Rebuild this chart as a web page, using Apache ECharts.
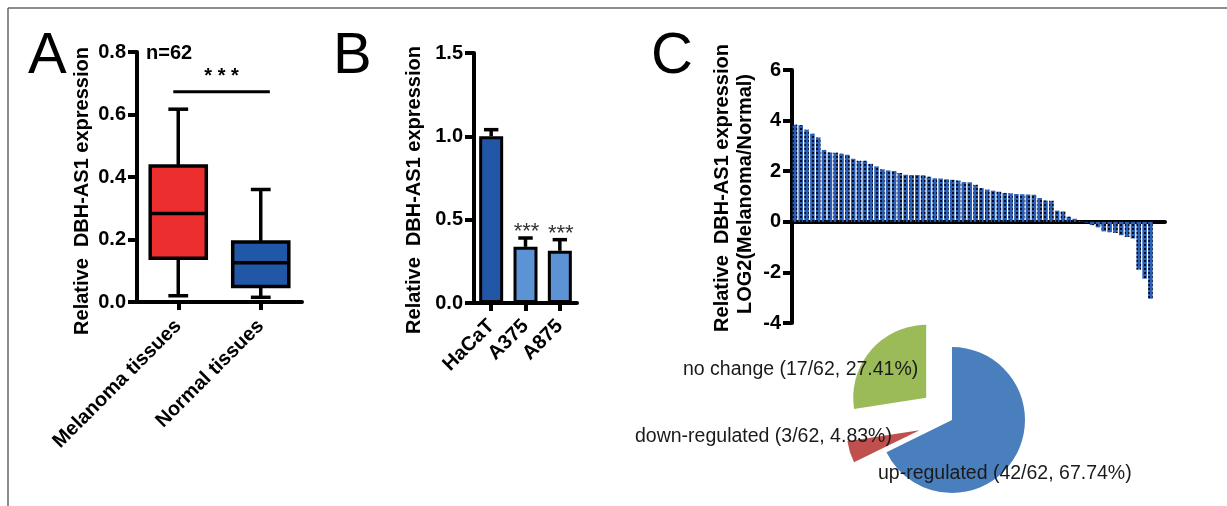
<!DOCTYPE html>
<html><head><meta charset="utf-8">
<script src="https://cdn.jsdelivr.net/npm/echarts@6/dist/echarts.min.js"></script>
<style>html,body{margin:0;padding:0;background:#fff}#c{width:1227px;height:506px}</style>
</head><body><div id="c"></div>
<script>
// ---------- Panel A: boxplot ----------
const boxCategories = ['Melanoma tissues', 'Normal tissues'];
const boxMin = [0.02, 0.015];
const boxQ1 = [0.14, 0.05];
const boxMedian = [0.283, 0.126];
const boxQ3 = [0.435, 0.192];
const boxMax = [0.617, 0.36];
const sampleSizeLabel = 'n=62';
const sigLevelA = 0.673;
const sigStarsA = '* * *';
const yTicksA = [0, 0.8, 0.2];

// ---------- Panel B: cell lines ----------
const cellLines = ['HaCaT', 'A375', 'A875'];
const cellExpr = [1.0, 0.337, 0.313];
const cellErr = [0.04, 0.053, 0.067];
const cellStars = ['', '***', '***'];
const yTicksB = [0, 1.5, 0.5];

// ---------- Panel C: waterfall + pie ----------
const log2Ratio = [3.84, 3.82, 3.64, 3.48, 3.33, 2.84, 2.74, 2.73, 2.69, 2.65,
  2.49, 2.41, 2.41, 2.29, 2.19, 2.07, 2.03, 2.01, 1.93, 1.86,
  1.85, 1.85, 1.84, 1.78, 1.72, 1.71, 1.68, 1.66, 1.63, 1.57,
  1.56, 1.46, 1.33, 1.27, 1.23, 1.19, 1.14, 1.12, 1.10, 1.09,
  1.08, 1.07, 0.94, 0.84, 0.83, 0.44, 0.41, 0.20, 0.12, 0.03,
  -0.03, -0.13, -0.22, -0.38, -0.41, -0.44, -0.53, -0.60, -0.66, -1.89,
  -2.25, -3.04];
const yTicksC = [-4, 6, 2];
const pieNames = ['up-regulated', 'down-regulated', 'no change'];
const pieCounts = [42, 3, 17];
const piePercents = ['67.74%', '4.83%', '27.41%'];
const yTitle = 'Relative  DBH-AS1 expression';
const yTitleC2 = 'LOG2(Melanoma/Normal)';

// ---------- styles ----------
const F = '"Liberation Sans", Arial, Helvetica, sans-serif';
const boxColors = ['#ec2e2f', '#2157a7'];
const cellColors = ['#2256a6', '#5b93d4', '#5b93d4'];
const pieColors = ['#4a7fbd', '#c0504d', '#9bbb59'];
const pieSelected = [false, true, true];
const pieLabelPos = [[878, 474], [635, 437], [683, 370]];

const chart = echarts.init(document.getElementById('c'), null, {renderer: 'canvas'});

function yAxisOf(grid, t, digits) {
  return {
    type: 'value', gridIndex: grid, min: t[0], max: t[1], interval: t[2],
    axisLine: {show: true, lineStyle: {color: '#000', width: 4}},
    axisTick: {show: true, length: 9, lineStyle: {color: '#000', width: 4}},
    splitLine: {show: false},
    axisLabel: {color: '#000', fontFamily: F, fontWeight: 'bold', fontSize: 20, margin: 11,
      formatter: v => digits ? v.toFixed(digits) : String(v)}
  };
}
function xAxisCat(grid, data, margin) {
  return {
    type: 'category', gridIndex: grid, data: data,
    axisLine: {show: true, onZero: false, lineStyle: {color: '#000', width: 4}},
    axisTick: {show: true, alignWithLabel: true, length: 8, lineStyle: {color: '#000', width: 4}},
    axisLabel: {rotate: 45, interval: 0, color: '#000', fontFamily: F, fontWeight: 'bold', fontSize: 20, margin: margin}
  };
}

const total = pieCounts.reduce((a, b) => a + b, 0);

const option = {
  animation: false,
  backgroundColor: '#fff',
  grid: [
    {left: 137, right: 925, top: 52, bottom: 204, containLabel: false, outerBoundsMode: 'none'},
    {left: 474, right: 650, top: 53, bottom: 203, containLabel: false, outerBoundsMode: 'none'},
    {left: 792, right: 62, top: 70, bottom: 183, containLabel: false, outerBoundsMode: 'none'}
  ],
  xAxis: [
    xAxisCat(0, boxCategories, 21),
    xAxisCat(1, cellLines, 20),
    {type: 'category', gridIndex: 2, data: log2Ratio.map((_, i) => String(i + 1)), max: log2Ratio.length + 1,
      axisLine: {show: true, onZero: true, lineStyle: {color: '#000', width: 4}},
      axisTick: {show: false}, axisLabel: {show: false}}
  ],
  yAxis: [
    yAxisOf(0, yTicksA, 1),
    yAxisOf(1, yTicksB, 1),
    yAxisOf(2, yTicksC, 0)
  ],
  series: [
    {
      type: 'custom', xAxisIndex: 0, yAxisIndex: 0,
      data: boxCategories.map((c, i) => [i, boxMin[i], boxQ1[i], boxMedian[i], boxQ3[i], boxMax[i]]),
      encode: {x: 0, y: [1, 2, 3, 4, 5]},
      renderItem: function (params, api) {
        const i = api.value(0);
        const band = api.size([1, 0])[0];
        const bw = band * 0.68, cw = band * 0.24;
        const pMin = api.coord([i, api.value(1)]), pQ1 = api.coord([i, api.value(2)]),
              pMd = api.coord([i, api.value(3)]), pQ3 = api.coord([i, api.value(4)]),
              pMax = api.coord([i, api.value(5)]);
        const cx = pMin[0];
        const st = {stroke: '#000', lineWidth: 3.5};
        return {type: 'group', children: [
          {type: 'line', shape: {x1: cx, y1: pMin[1], x2: cx, y2: pMax[1]}, style: st},
          {type: 'line', shape: {x1: cx - cw / 2, y1: pMin[1], x2: cx + cw / 2, y2: pMin[1]}, style: st},
          {type: 'line', shape: {x1: cx - cw / 2, y1: pMax[1], x2: cx + cw / 2, y2: pMax[1]}, style: st},
          {type: 'rect', shape: {x: cx - bw / 2, y: pQ3[1], width: bw, height: pQ1[1] - pQ3[1]},
            style: {fill: boxColors[params.dataIndex], stroke: '#000', lineWidth: 3.5}},
          {type: 'line', shape: {x1: cx - bw / 2, y1: pMd[1], x2: cx + bw / 2, y2: pMd[1]}, style: st}
        ]};
      }
    },
    {
      type: 'custom', xAxisIndex: 0, yAxisIndex: 0,
      data: [[0, 1, sigLevelA]],
      renderItem: function (params, api) {
        const band = api.size([1, 0])[0];
        const p0 = api.coord([api.value(0), api.value(2)]);
        const p1 = api.coord([api.value(1), api.value(2)]);
        const x1 = p0[0] - band * 0.06, x2 = p1[0] + band * 0.11;
        return {type: 'group', children: [
          {type: 'line', shape: {x1: x1, y1: p0[1], x2: x2, y2: p0[1]}, style: {stroke: '#000', lineWidth: 3}},
          {type: 'text', x: (x1 + x2) / 2, y: p0[1] - 5,
            style: {text: sigStarsA, font: 'bold 20px ' + F, fill: '#000', align: 'center', verticalAlign: 'bottom'}}
        ]};
      }
    },
    {
      type: 'bar', xAxisIndex: 1, yAxisIndex: 1, barWidth: 24,
      data: cellExpr.map((v, i) => ({value: v, itemStyle: {color: cellColors[i]}})),
      itemStyle: {borderColor: '#000', borderWidth: 3}
    },
    {
      type: 'custom', xAxisIndex: 1, yAxisIndex: 1, z: 1,
      data: cellLines.map((c, i) => [i, cellExpr[i], cellExpr[i] + cellErr[i]]),
      encode: {x: 0, y: [1, 2]},
      renderItem: function (params, api) {
        const band = api.size([1, 0])[0];
        const cw = band * 0.42;
        const pLo = api.coord([api.value(0), api.value(1)]);
        const pHi = api.coord([api.value(0), api.value(2)]);
        const st = {stroke: '#000', lineWidth: 3.5};
        return {type: 'group', children: [
          {type: 'line', shape: {x1: pLo[0], y1: pLo[1], x2: pHi[0], y2: pHi[1]}, style: st},
          {type: 'line', shape: {x1: pHi[0] - cw / 2, y1: pHi[1], x2: pHi[0] + cw / 2, y2: pHi[1]}, style: st},
          {type: 'text', x: pHi[0] + 1, y: pHi[1] + 5,
            style: {text: cellStars[params.dataIndex], font: '22px ' + F, fill: '#333', align: 'center', verticalAlign: 'bottom'}}
        ]};
      }
    },
    {
      type: 'bar', xAxisIndex: 2, yAxisIndex: 2, barCategoryGap: '22%',
      data: log2Ratio,
      itemStyle: {color: '#2e5fb6',
        decal: {symbol: 'rect', symbolSize: 1, color: 'rgba(0,0,0,0.85)', dashArrayX: [1.5, 1.5], dashArrayY: [1.5, 1.5], rotation: 0}}
    },
    {
      type: 'pie', center: [952, 420], radius: 73, startAngle: 90, clockwise: true,
      selectedMode: 'multiple', selectedOffset: 34, silent: true,
      itemStyle: {borderWidth: 0},
      emphasis: {disabled: true},
      data: pieNames.map((n, i) => ({name: n, value: pieCounts[i], selected: pieSelected[i], itemStyle: {color: pieColors[i]}})),
      label: {show: false},
      labelLine: {show: false}
    }
  ],
  graphic: [
    {type: 'line', shape: {x1: 8, y1: 8, x2: 1227, y2: 8}, style: {stroke: '#666', lineWidth: 1.5}},
    {type: 'line', shape: {x1: 8, y1: 8, x2: 8, y2: 506}, style: {stroke: '#666', lineWidth: 1.5}},
    {type: 'text', left: 28, top: 28, style: {text: 'A', font: '58px ' + F, fill: '#000'}},
    {type: 'text', left: 333, top: 28, style: {text: 'B', font: '58px ' + F, fill: '#000'}},
    {type: 'text', left: 651, top: 28, style: {text: 'C', font: '58px ' + F, fill: '#000'}},
    {type: 'text', x: 146, y: 53, style: {text: sampleSizeLabel, font: 'bold 20px ' + F, fill: '#000', align: 'left', verticalAlign: 'middle'}},
    {type: 'text', x: 82, y: 191, rotation: Math.PI / 2, style: {text: yTitle, font: 'bold 20px ' + F, fill: '#000', align: 'center', verticalAlign: 'middle'}},
    {type: 'text', x: 414, y: 190, rotation: Math.PI / 2, style: {text: yTitle, font: 'bold 20px ' + F, fill: '#000', align: 'center', verticalAlign: 'middle'}},
    {type: 'text', x: 722, y: 188, rotation: Math.PI / 2, style: {text: yTitle, font: 'bold 20px ' + F, fill: '#000', align: 'center', verticalAlign: 'middle'}},
    {type: 'text', x: 745, y: 194, rotation: Math.PI / 2, style: {text: yTitleC2, font: 'bold 20px ' + F, fill: '#000', align: 'center', verticalAlign: 'middle'}}
  ].concat(pieNames.map((n, i) => ({
    type: 'text', x: pieLabelPos[i][0], y: pieLabelPos[i][1], z: 100,
    style: {text: `${n} (${pieCounts[i]}/${total}, ${piePercents[i]})`, font: '19.5px ' + F, fill: '#1a1a1a', align: 'left', verticalAlign: 'middle'}
  })))
};
chart.setOption(option);
</script></body></html>
